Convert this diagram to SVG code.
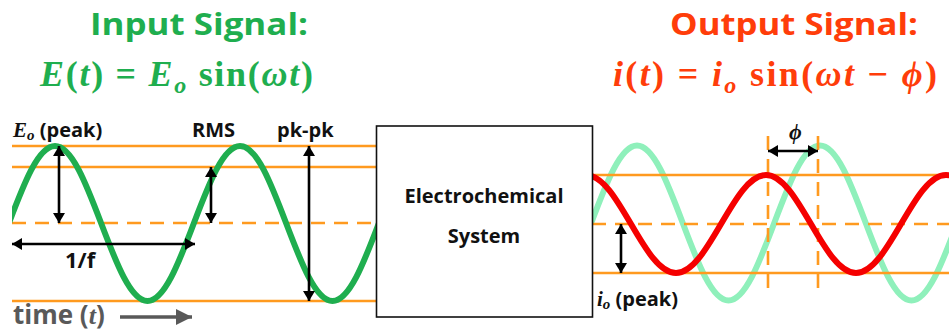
<svg xmlns="http://www.w3.org/2000/svg" width="949" height="333" viewBox="0 0 949 333">
<style>
.title{font-family:"Open Sans","Liberation Sans",sans-serif;font-weight:bold;font-size:31px}
.eq{font-family:"Liberation Serif","DejaVu Serif",serif;font-weight:bold;font-size:36px}
.it{font-style:italic}
.lbl{font-family:"Open Sans","Liberation Sans",sans-serif;font-weight:bold;fill:#111}
.mi{font-family:"Liberation Serif","DejaVu Serif",serif;font-weight:bold;font-style:italic}
.ol{stroke:#ff9a1f;stroke-width:2.6;fill:none}
.od{stroke:#ff9a1f;stroke-width:2.6;fill:none;stroke-dasharray:14 9}
.arr{stroke:#000;stroke-width:2.6;fill:none;marker-start:url(#ah);marker-end:url(#ah)}
</style>
<defs>
<marker id="ah" viewBox="0 0 10 12" refX="10" refY="6" markerWidth="10" markerHeight="12" markerUnits="userSpaceOnUse" orient="auto-start-reverse">
<path d="M0,0 L10,6 L0,12 z" fill="#000"/>
</marker>
<marker id="gh" viewBox="0 0 16 16" refX="16" refY="8" markerWidth="16" markerHeight="16" markerUnits="userSpaceOnUse" orient="auto">
<path d="M0,0 L16,8 L0,16 z" fill="#595959"/>
</marker>
<clipPath id="clipL"><rect x="12" y="100" width="364" height="220"/></clipPath>
<clipPath id="clipR"><rect x="592" y="100" width="357" height="220"/></clipPath>
</defs>

<g id="input-title">
<text class="title" x="90" y="35" fill="#1fae4f" textLength="218" lengthAdjust="spacingAndGlyphs">Input Signal:</text>
<text class="eq" x="40" y="86" fill="#1fae4f" textLength="273" lengthAdjust="spacing"><tspan class="it">E</tspan>(<tspan class="it">t</tspan>) = <tspan class="it">E</tspan><tspan class="it" font-size="24" dy="7">o</tspan><tspan dy="-7"> sin(</tspan><tspan class="it">ωt</tspan>)</text>
</g>

<g id="output-title">
<text class="title" x="670" y="35" fill="#ff3d0a" textLength="248" lengthAdjust="spacingAndGlyphs">Output Signal:</text>
<text class="eq" x="613" y="86" fill="#ff3d0a" textLength="324" lengthAdjust="spacing"><tspan class="it">i</tspan>(<tspan class="it">t</tspan>) = <tspan class="it">i</tspan><tspan class="it" font-size="24" dy="7">o</tspan><tspan dy="-7"> sin(</tspan><tspan class="it">ωt</tspan> − <tspan class="it">ϕ</tspan>)</text>
</g>

<g id="input-levels">
<line class="ol" x1="12" y1="146" x2="376" y2="146"/>
<line class="ol" x1="12" y1="167" x2="376" y2="167"/>
<line class="od" x1="12" y1="223" x2="376" y2="223"/>
<line class="ol" x1="12" y1="301" x2="376" y2="301"/>
</g>

<g id="input-wave" clip-path="url(#clipL)">
<path fill="none" stroke="#1fae4f" stroke-width="6" d="M8.75,223.5 c15.08,-39.7 29.51,-77.5 46.25,-77.5 c16.74,0 31.17,37.8 46.25,77.5 c15.08,39.7 29.51,77.5 46.25,77.5 c16.74,0 31.17,-37.8 46.25,-77.5 c15.08,-39.7 29.51,-77.5 46.25,-77.5 c16.74,0 31.17,37.8 46.25,77.5 c15.08,39.7 29.51,77.5 46.25,77.5 c16.74,0 31.17,-37.8 46.25,-77.5"/>
</g>

<g id="output-waves" clip-path="url(#clipR)">
<path fill="none" stroke="#8ff0bb" stroke-width="6" d="M591.25,223 c14.92,-39.7 29.19,-77.5 45.75,-77.5 c16.56,0 30.83,37.8 45.75,77.5 c14.92,39.7 29.19,77.5 45.75,77.5 c16.56,0 30.83,-37.8 45.75,-77.5 c14.92,-39.7 29.19,-77.5 45.75,-77.5 c16.56,0 30.83,37.8 45.75,77.5 c14.92,39.7 29.19,77.5 45.75,77.5 c16.56,0 30.83,-37.8 45.75,-77.5"/>
</g>

<g id="output-levels">
<line class="ol" x1="592" y1="175" x2="949" y2="175"/>
<line class="od" x1="592" y1="224" x2="949" y2="224"/>
<line class="ol" x1="592" y1="273" x2="949" y2="273"/>
<line class="od" x1="768" y1="136" x2="768" y2="294"/>
<line class="od" x1="818" y1="136" x2="818" y2="294"/>
</g>

<g id="output-red" clip-path="url(#clipR)">
<path fill="none" stroke="#f50000" stroke-width="6" d="M586,175 c16.29,0 30.33,23.9 45,49 c14.67,25.1 28.71,49 45,49 c16.29,0 30.33,-23.9 45,-49 c14.67,-25.1 28.71,-49 45,-49 c16.29,0 30.33,23.9 45,49 c14.67,25.1 28.71,49 45,49 c16.29,0 30.33,-23.9 45,-49 c14.67,-25.1 28.71,-49 45,-49 c16.29,0 30.33,23.9 45,49"/>
</g>

<g id="system">
<rect x="376.5" y="126" width="216" height="191" fill="#fff" stroke="#111" stroke-width="1.6"/>
<text class="lbl" x="484" y="203" text-anchor="middle" style="font-size:20px">Electrochemical</text>
<text class="lbl" x="484" y="243" text-anchor="middle" style="font-size:20px">System</text>
</g>

<g id="connectors">
<line class="arr" x1="59" y1="146" x2="59" y2="223"/>
<line class="arr" x1="211" y1="167" x2="211" y2="223"/>
<line class="arr" x1="309" y1="146" x2="309" y2="301"/>
<line class="arr" x1="12" y1="244" x2="195" y2="244"/>
<line class="arr" x1="768" y1="151" x2="818" y2="151"/>
<line class="arr" x1="621" y1="224" x2="621" y2="273"/>
<line x1="120" y1="317" x2="192" y2="317" stroke="#595959" stroke-width="3.5" marker-end="url(#gh)"/>
</g>

<g id="labels">
<text class="lbl" x="13" y="137" style="font-size:20px"><tspan class="mi" font-size="21">E</tspan><tspan class="mi" font-size="15" dy="3">o</tspan><tspan dy="-3"> (peak)</tspan></text>
<text class="lbl" x="192" y="137" style="font-size:20px">RMS</text>
<text class="lbl" x="277" y="137" style="font-size:20px">pk-pk</text>
<text class="lbl" x="65" y="268" style="font-size:22px">1/f</text>
<text class="lbl" x="13" y="324" style="font-size:26px;fill:#595959">time (<tspan class="mi">t</tspan>)</text>
<text class="lbl" x="789" y="139" style="font-size:20px"><tspan class="mi" font-size="22">ϕ</tspan></text>
<text class="lbl" x="597" y="306" style="font-size:20px"><tspan class="mi" font-size="21">i</tspan><tspan class="mi" font-size="15" dy="3">o</tspan><tspan dy="-3"> (peak)</tspan></text>
</g>
</svg>
